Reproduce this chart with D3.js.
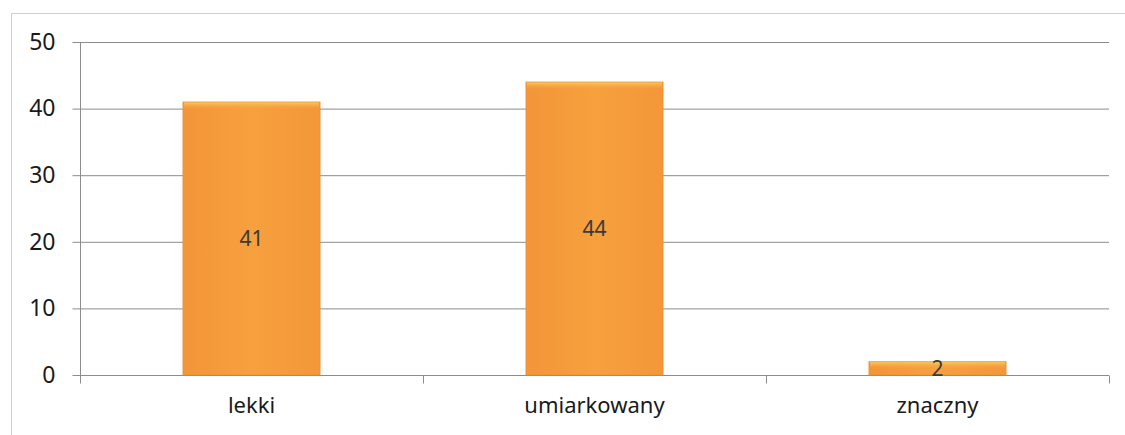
<!DOCTYPE html>
<html><head><meta charset="utf-8">
<script src="https://cdn.jsdelivr.net/npm/d3@7"></script>
<style>body{margin:0;background:#fff}</style>
</head><body>
<svg id="c" width="1125" height="435"></svg>
<script>
const categories = ["lekki", "umiarkowany", "znaczny"];
const values = [41, 44, 2];
const yTicks = [0, 10, 20, 30, 40, 50];

const svg = d3.select("#c");
const W = 1125, H = 435;
const m = {l: 80, r: 16, t: 42, b: 60};
const x = d3.scaleBand().domain(categories).range([m.l, 1109]).paddingInner(0.6).paddingOuter(0.3);
const y = d3.scaleLinear().domain([0, 50]).range([375, 42]);
const FONT = "Noto Sans, sans-serif";

// outer frame
svg.append("rect").attr("x", 11.5).attr("y", 13.5).attr("width", W - 10).attr("height", H)
  .attr("fill", "none").attr("stroke", "#cfcfcf").attr("stroke-width", 1);

const defs = svg.append("defs");
const g1 = defs.append("linearGradient").attr("id", "barg").attr("x1", 0).attr("x2", 1).attr("y1", 0).attr("y2", 0);
g1.append("stop").attr("offset", "0%").attr("stop-color", "#f39539");
g1.append("stop").attr("offset", "50%").attr("stop-color", "#f7a03e");
g1.append("stop").attr("offset", "100%").attr("stop-color", "#f39739");
const g2 = defs.append("linearGradient").attr("id", "topg").attr("x1", 0).attr("x2", 0).attr("y1", 0).attr("y2", 1);
g2.append("stop").attr("offset", "0%").attr("stop-color", "#f9c95e").attr("stop-opacity", 1);
g2.append("stop").attr("offset", "100%").attr("stop-color", "#f7a03e").attr("stop-opacity", 0);

// gridlines
svg.append("g").selectAll("line").data(yTicks.filter(d => d > 0)).join("line")
  .attr("x1", m.l).attr("x2", 1109).attr("y1", d => y(d) + 0.5).attr("y2", d => y(d) + 0.5)
  .attr("stroke", "#8c8c8c").attr("stroke-width", 1);

// y axis
const ya = svg.append("g").attr("transform", `translate(${m.l + 0.5},0)`)
  .call(d3.axisLeft(y).tickValues(yTicks).tickSize(8).tickPadding(17));
ya.select(".domain").attr("stroke", "#8c8c8c").attr("d", `M0,${y(50)}V${y(0)}`);
ya.selectAll(".tick line").attr("stroke", "#8c8c8c");
ya.selectAll(".tick text").attr("font-family", FONT).attr("font-size", 23).attr("fill", "#1a1a1a");

// x axis
const xa = svg.append("g").attr("transform", `translate(0,${y(0) + 0.5})`)
  .call(d3.axisBottom(x).tickSize(0).tickPadding(22));
xa.select(".domain").remove();
xa.append("line").attr("x1", m.l).attr("x2", 1109).attr("stroke", "#8c8c8c");
const bounds = [m.l, m.l + (1109 - m.l) / 3, m.l + 2 * (1109 - m.l) / 3, 1109];
xa.selectAll(".sep").data(bounds).join("line").attr("class", "sep")
  .attr("x1", d => d + 0.5).attr("x2", d => d + 0.5).attr("y1", 0).attr("y2", 8).attr("stroke", "#8c8c8c");
xa.selectAll(".tick text").attr("font-family", FONT).attr("font-size", 22).attr("fill", "#1a1a1a");

// bars
const bars = svg.append("g").selectAll("g").data(categories.map((c, i) => ({c, v: values[i]}))).join("g");
bars.append("rect").attr("x", d => x(d.c)).attr("width", x.bandwidth())
  .attr("y", d => y(d.v)).attr("height", d => y(0) - y(d.v)).attr("fill", "url(#barg)")
  .attr("stroke", "#ec8c32").attr("stroke-width", 0.6);
bars.append("rect").attr("x", d => x(d.c) + 1).attr("width", x.bandwidth() - 2)
  .attr("y", d => y(d.v) + 0.5).attr("height", d => Math.min(7, (y(0) - y(d.v)) / 2)).attr("fill", "url(#topg)");

bars.append("text").attr("x", d => x(d.c) + x.bandwidth() / 2)
  .attr("y", d => (y(d.v) + y(0)) / 2 + 7.5)
  .attr("text-anchor", "middle").attr("font-family", FONT).attr("font-size", 21)
  .attr("fill", "#3a3a3a").text(d => d.v);
</script>
</body></html>
